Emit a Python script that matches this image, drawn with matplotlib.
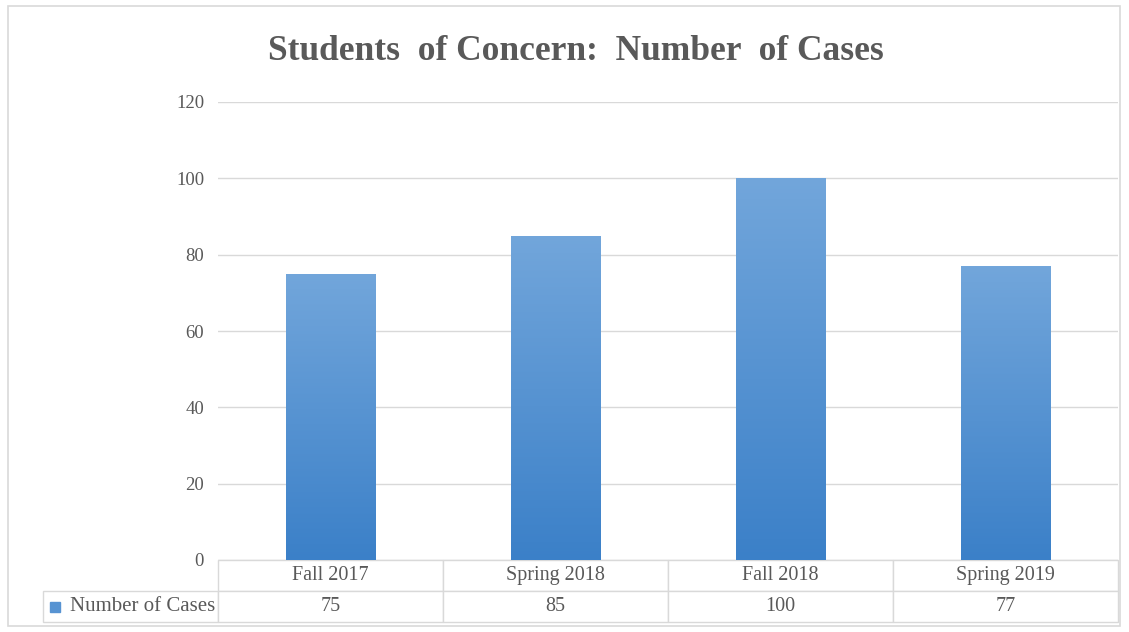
import numpy as np
import matplotlib.pyplot as plt
from matplotlib.patches import Rectangle

plt.rcParams['font.family'] = ['Liberation Serif', 'DejaVu Serif']

categories = ['Fall 2017', 'Spring 2018', 'Fall 2018', 'Spring 2019']
cases = [75, 85, 100, 77]
series_name = 'Number of Cases'
title = 'Students  of Concern:  Number  of Cases'

txt_col = '#595959'
grid_col = '#d9d9d9'
top_col = np.array([0x72, 0xa6, 0xdb]) / 255
bot_col = np.array([0x3b, 0x80, 0xc8]) / 255

W, H = 1129, 632
fig = plt.figure(figsize=(W / 100, H / 100), dpi=100)

# outer chart frame
fig.patches.append(Rectangle((8 / W, 6 / H), 1112 / W, 620 / H, transform=fig.transFigure,
                             fill=False, edgecolor=grid_col, lw=1.2))

ax = fig.add_axes([218 / W, (H - 560) / H, 900 / W, 458 / H])
x = np.arange(len(categories))
bars = ax.bar(x, cases, width=0.4, color='none', zorder=2)

# vertical gradient fill for each bar
grad = np.linspace(0, 1, 256)[:, None, None]
img = bot_col * (1 - grad) + top_col * grad
for b in bars:
    x0, w, h = b.get_x(), b.get_width(), b.get_height()
    im = ax.imshow(img, extent=[x0, x0 + w, 0, h], origin='lower', aspect='auto', zorder=2)
    im.set_clip_path(b)

ax.set_xlim(-0.5, len(categories) - 0.5)
ax.set_ylim(0, 120)
ax.set_yticks(range(0, 121, 20))
ax.yaxis.grid(True, color=grid_col, lw=1)
ax.set_axisbelow(True)
ax.set_xticks([])
for s in ax.spines.values():
    s.set_visible(False)
ax.tick_params(axis='y', length=0, pad=10, labelsize=13.5, labelcolor=txt_col)

# data table below the plot (bbox covers the data cells only)
tbl = ax.table(cellText=[[str(v) for v in cases]], rowLabels=[series_name],
               colLabels=categories, cellLoc='center', rowLoc='right',
               bbox=[0, -62 / 458, 1, 62 / 458])
tbl.auto_set_font_size(False)
tbl._autoColumns = []  # keep the row label column at a fixed width
for (r, c), cell in tbl.get_celld().items():
    cell.set_edgecolor(grid_col)
    cell.set_linewidth(1)
    cell.set_width(175 / 900 if c == -1 else 225 / 900)
    cell.get_text().set_color(txt_col)
    cell.get_text().set_fontsize(14.5)
    if c == -1:
        cell.PAD = 0.015
        cell.get_text().set_fontsize(15)

# legend key in the row label cell
ax.add_patch(Rectangle((-168 / 900, -52 / 458), 10 / 900, 10 / 458, transform=ax.transAxes,
                       color=(top_col + bot_col) / 2, clip_on=False))

fig.text(576 / W, 1 - 52 / H, title, ha='center', va='center', fontsize=25.5,
         fontweight='bold', color=txt_col)

fig.savefig('out.png', dpi=100)
